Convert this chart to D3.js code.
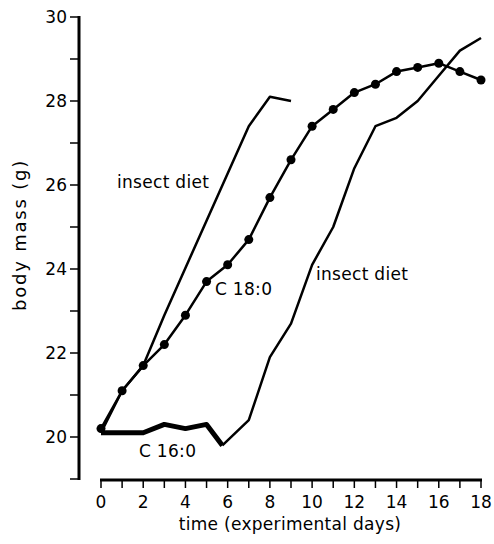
<!DOCTYPE html>
<html>
<head>
<meta charset="utf-8">
<script src="https://cdn.jsdelivr.net/npm/d3@7"></script>
<style>
  body { margin: 0; background: #fff; }
  text { font-family: "DejaVu Sans", sans-serif; fill: #000; }
</style>
</head>
<body>
<div id="chart"></div>
<script>
// 数据
const c18Days = [0, 1, 2, 3, 4, 5, 6, 7, 8, 9, 10, 11, 12, 13, 14, 15, 16, 17, 18];
const c18Mass = [20.2, 21.1, 21.7, 22.2, 22.9, 23.7, 24.1, 24.7, 25.7, 26.6, 27.4, 27.8, 28.2, 28.4, 28.7, 28.8, 28.9, 28.7, 28.5];

const insect1Days = [0, 1, 2, 3, 7, 8, 9];
const insect1Mass = [20.1, 21.1, 21.7, 22.9, 27.4, 28.1, 28.0];

const c16Days = [0, 2, 3, 4, 5, 5.75];
const c16Mass = [20.1, 20.1, 20.3, 20.2, 20.3, 19.8];

const insect2Days = [5.75, 7, 8, 9, 10, 11, 12, 13, 14, 15, 16, 17, 18];
const insect2Mass = [19.8, 20.4, 21.9, 22.7, 24.1, 25.0, 26.4, 27.4, 27.6, 28.0, 28.6, 29.2, 29.5];

const xTickLabels = [0, 2, 4, 6, 8, 10, 12, 14, 16, 18];
const yTickLabels = [20, 22, 24, 26, 28, 30];

const width = 494, height = 544;

const svg = d3.select("#chart").append("svg")
    .attr("width", width)
    .attr("height", height);

// 比例尺
const x = d3.scaleLinear().domain([0, 18]).range([101, 481]);
const y = d3.scaleLinear().domain([19, 30]).range([479, 17]);

// Y 轴
const yAxisG = svg.append("g").attr("transform", "translate(79,0)");
yAxisG.append("line")
    .attr("x1", 0).attr("x2", 0)
    .attr("y1", y(30) - 1).attr("y2", y(19) + 1)
    .attr("stroke", "#000").attr("stroke-width", 3);
yAxisG.selectAll(".ytick")
    .data(d3.range(19, 31))
    .join("line")
    .attr("x1", -9).attr("x2", 0)
    .attr("y1", d => y(d)).attr("y2", d => y(d))
    .attr("stroke", "#000").attr("stroke-width", 1.5);
yAxisG.selectAll(".ylabel")
    .data(yTickLabels)
    .join("text")
    .attr("x", -12)
    .attr("y", d => y(d))
    .attr("dy", "0.36em")
    .attr("text-anchor", "end")
    .attr("font-size", 17)
    .text(d => d);

// X 轴
const xAxisG = svg.append("g").attr("transform", "translate(0,480)");
xAxisG.append("line")
    .attr("x1", x(0) - 1).attr("x2", x(18) + 1)
    .attr("y1", 0).attr("y2", 0)
    .attr("stroke", "#000").attr("stroke-width", 3);
xAxisG.selectAll(".xtick")
    .data(d3.range(0, 19))
    .join("line")
    .attr("x1", d => x(d)).attr("x2", d => x(d))
    .attr("y1", 0).attr("y2", 8)
    .attr("stroke", "#000").attr("stroke-width", 1.5);
xAxisG.selectAll(".xlabel")
    .data(xTickLabels)
    .join("text")
    .attr("x", d => x(d))
    .attr("y", 28)
    .attr("text-anchor", "middle")
    .attr("font-size", 17)
    .text(d => d);

// 轴标题
svg.append("text")
    .attr("x", 290).attr("y", 530)
    .attr("text-anchor", "middle")
    .attr("font-size", 17)
    .attr("letter-spacing", 0.3)
    .text("time (experimental days)");
svg.append("text")
    .attr("transform", "translate(26,235) rotate(-90)")
    .attr("text-anchor", "middle")
    .attr("font-size", 18)
    .attr("letter-spacing", 1.8)
    .text("body mass (g)");

// 折线
const line = d3.line().x(d => x(d[0])).y(d => y(d[1]));

function drawSeries(days, mass, w) {
    svg.append("path")
        .datum(d3.zip(days, mass))
        .attr("d", line)
        .attr("fill", "none")
        .attr("stroke", "#000")
        .attr("stroke-width", w)
        .attr("stroke-linejoin", "round");
}

drawSeries(insect1Days, insect1Mass, 2.5);
drawSeries(insect2Days, insect2Mass, 2.5);
drawSeries(c16Days, c16Mass, 5);
drawSeries(c18Days, c18Mass, 2.5);

svg.selectAll(".dot")
    .data(d3.zip(c18Days, c18Mass))
    .join("circle")
    .attr("cx", d => x(d[0]))
    .attr("cy", d => y(d[1]))
    .attr("r", 4.5)
    .attr("fill", "#000");

// 标注
const notes = [
    {t: "insect diet", x: 117, y: 188},
    {t: "C 18:0", x: 215, y: 295},
    {t: "insect diet", x: 316, y: 280},
    {t: "C 16:0", x: 139, y: 457}
];
svg.selectAll(".note")
    .data(notes)
    .join("text")
    .attr("x", d => d.x)
    .attr("y", d => d.y)
    .attr("font-size", 17)
    .attr("letter-spacing", 0.3)
    .text(d => d.t);
</script>
</body>
</html>
